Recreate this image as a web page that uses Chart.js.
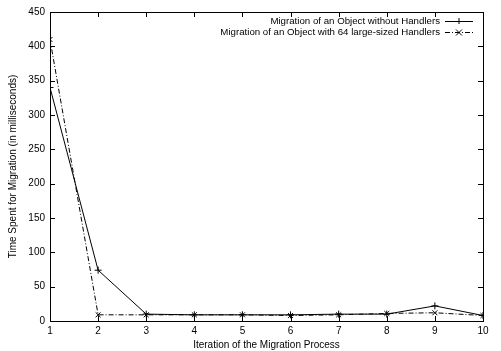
<!DOCTYPE html>
<html>
<head>
<meta charset="utf-8">
<script src="https://cdn.jsdelivr.net/npm/chart.js@4.4.1/dist/chart.umd.min.js"></script>
<style>
  html, body { margin: 0; padding: 0; background: #fff; }
  #wrap { width: 501px; height: 351px; }
</style>
</head>
<body>
<div id="wrap"><canvas id="chart" width="501" height="351"></canvas></div>
<script>
// ── Data ──────────────────────────────────────────────────
const iterations = [1, 2, 3, 4, 5, 6, 7, 8, 9, 10];
const noHandlers = [340, 74, 10, 9, 9, 9, 10, 10, 22, 8];
const withHandlers = [410, 9, 9, 9, 9, 8, 9, 11, 12, 8];
const seriesLabels = [
    'Migration of an Object without Handlers',
    'Migration of an Object with 64 large-sized Handlers'
];

const FONT = 'Liberation Sans, Arial, sans-serif';

// gnuplot-style frame + inward ticks on all four sides, and the key
const framePlugin = {
    id: 'frame',
    afterDatasetsDraw(chart) {
        const { ctx, chartArea: a, scales } = chart;
        ctx.save();
        ctx.strokeStyle = '#000';
        ctx.lineWidth = 1;
        ctx.strokeRect(a.left + 0.5, a.top + 0.5, a.right - a.left, a.bottom - a.top);
        const len = 5;
        ctx.beginPath();
        scales.x.ticks.forEach(t => {
            const x = Math.round(scales.x.getPixelForValue(t.value)) + 0.5;
            ctx.moveTo(x, a.bottom); ctx.lineTo(x, a.bottom - len);
            ctx.moveTo(x, a.top); ctx.lineTo(x, a.top + len);
        });
        scales.y.ticks.forEach(t => {
            const y = Math.round(scales.y.getPixelForValue(t.value)) + 0.5;
            ctx.moveTo(a.left, y); ctx.lineTo(a.left + len, y);
            ctx.moveTo(a.right, y); ctx.lineTo(a.right - len, y);
        });
        ctx.stroke();

        // key, top-right, text right-aligned with the sample to its right
        ctx.font = '9.7px ' + FONT;
        ctx.textAlign = 'right';
        ctx.textBaseline = 'middle';
        ctx.fillStyle = '#000';
        chart.data.datasets.forEach((ds, i) => {
            const y = 21 + i * 11;
            ctx.fillText(ds.label, 440, y);
            ctx.beginPath();
            ctx.setLineDash(ds.borderDash || []);
            ctx.moveTo(445, y + 0.5); ctx.lineTo(473, y + 0.5);
            ctx.stroke();
            ctx.setLineDash([]);
            ctx.beginPath();
            if (ds.pointStyle === 'cross') {
                ctx.moveTo(459, y - 3); ctx.lineTo(459, y + 3);
                ctx.moveTo(456, y + 0.5); ctx.lineTo(462, y + 0.5);
            } else {
                ctx.moveTo(456, y - 2.5); ctx.lineTo(462, y + 3.5);
                ctx.moveTo(462, y - 2.5); ctx.lineTo(456, y + 3.5);
            }
            ctx.stroke();
        });
        ctx.restore();
    }
};

new Chart(document.getElementById('chart'), {
    type: 'line',
    data: {
        datasets: [
            {
                label: seriesLabels[0],
                data: iterations.map((x, i) => ({ x, y: noHandlers[i] })),
                borderColor: '#000',
                borderWidth: 1,
                pointStyle: 'cross',
                pointRadius: 3.5,
                pointBorderColor: '#000',
                pointBorderWidth: 1,
                tension: 0
            },
            {
                label: seriesLabels[1],
                data: iterations.map((x, i) => ({ x, y: withHandlers[i] })),
                borderColor: '#000',
                borderWidth: 1,
                borderDash: [5, 2, 1, 2],
                pointStyle: 'crossRot',
                pointRadius: 3.5,
                pointBorderColor: '#000',
                pointBorderWidth: 1,
                tension: 0
            }
        ]
    },
    options: {
        responsive: false,
        animation: false,
        layout: { padding: { top: 12, right: 18, left: 0, bottom: 0 } },
        plugins: {
            legend: { display: false },
            tooltip: { enabled: false }
        },
        scales: {
            x: {
                type: 'linear',
                min: 1,
                max: 10,
                ticks: { stepSize: 1, color: '#000', font: { family: FONT, size: 10 }, padding: 4 },
                grid: { display: false, drawTicks: false },
                border: { display: false },
                title: {
                    display: true,
                    text: 'Iteration of the Migration Process',
                    color: '#000',
                    font: { family: FONT, size: 10 },
                    padding: { top: 5, bottom: 0 }
                },
                afterFit(s) { s.height = 30; }
            },
            y: {
                min: 0,
                max: 450,
                ticks: { stepSize: 50, color: '#000', font: { family: FONT, size: 10 }, padding: 5 },
                grid: { display: false, drawTicks: false },
                border: { display: false },
                title: {
                    display: true,
                    text: 'Time Spent for Migration (in milliseconds)',
                    color: '#000',
                    font: { family: FONT, size: 10 },
                    padding: { top: 7, bottom: 4 }
                },
                afterFit(s) { s.width = 50; }
            }
        }
    },
    plugins: [framePlugin]
});
</script>
</body>
</html>
